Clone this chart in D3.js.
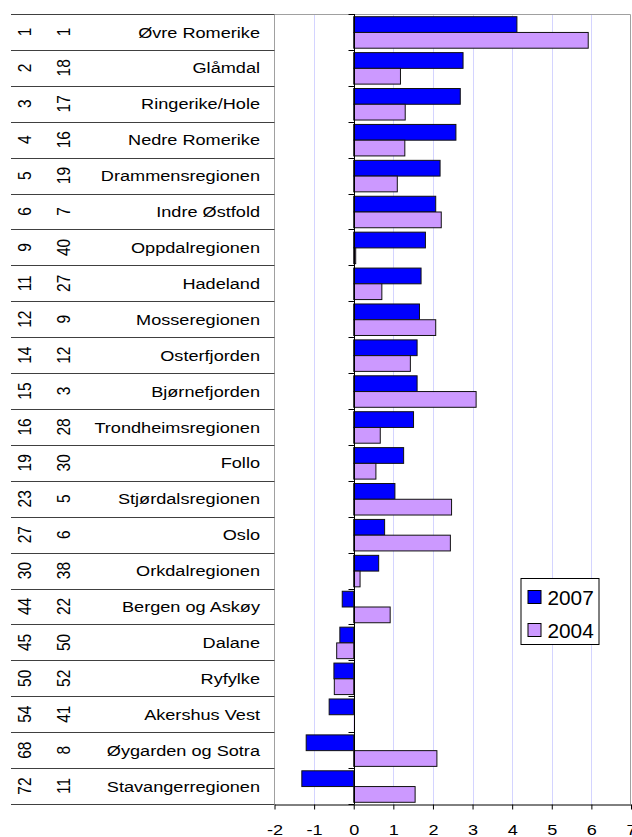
<!DOCTYPE html>
<html>
<head>
<meta charset="utf-8">
<script src="https://cdn.jsdelivr.net/npm/d3@7"></script>
<style>
  body { margin: 0; background: #fff; }
  text { font-family: "Liberation Sans", Arial, sans-serif; fill: #000; }
</style>
</head>
<body>
<script>
// regions, top to bottom
const regions = [
  "Øvre Romerike", "Glåmdal", "Ringerike/Hole", "Nedre Romerike",
  "Drammensregionen", "Indre Østfold", "Oppdalregionen", "Hadeland",
  "Mosseregionen", "Osterfjorden", "Bjørnefjorden", "Trondheimsregionen",
  "Follo", "Stjørdalsregionen", "Oslo", "Orkdalregionen", "Bergen og Askøy",
  "Dalane", "Ryfylke", "Akershus Vest", "Øygarden og Sotra", "Stavangerregionen",
];
// rank columns shown in the table
const rank2007 = [1, 2, 3, 4, 5, 6, 9, 11, 12, 14, 15, 16, 19, 23, 27, 30, 44, 45, 50, 54, 68, 72];
const rank2004 = [1, 18, 17, 16, 19, 7, 40, 27, 9, 12, 3, 28, 30, 5, 6, 38, 22, 50, 52, 41, 8, 11];
// bar values
const values2007 = [4.12, 2.76, 2.69, 2.58, 2.18, 2.07, 1.81, 1.70, 1.66, 1.60, 1.60, 1.51, 1.26, 1.04, 0.78, 0.63, -0.29, -0.35, -0.50, -0.62, -1.20, -1.31];
const values2004 = [5.92, 1.18, 1.30, 1.29, 1.10, 2.21, 0.05, 0.71, 2.07, 1.43, 3.09, 0.67, 0.56, 2.47, 2.44, 0.16, 0.92, -0.43, -0.49, 0, 2.10, 1.55];
const series = ["2007", "2004"];
const seriesColors = ["#0000ff", "#cc99ff"];
const xTicks = [-2, -1, 0, 1, 2, 3, 4, 5, 6, 7];

const width = 632;
const height = 837;
const plot = { left: 274.5, right: 631, top: 14, bottom: 804 };
const stretch = 1.17; // text in the original is a bit wide
const fontSize = 15.5;

const svg = d3.select("body").append("svg")
  .attr("width", width)
  .attr("height", height);

const x = d3.scaleLinear().domain([-2, 7]).range([plot.left, plot.right]);
const y = d3.scaleBand().domain(regions).range([plot.top, plot.bottom]);
const ySub = d3.scaleBand().domain(series)
  .range([0, y.bandwidth()])
  .paddingOuter(0.14);

// gridlines
svg.append("g")
  .selectAll("line")
  .data(xTicks.filter((d) => d > -2 && d < 7 && d !== 0))
  .join("line")
  .attr("x1", (d) => Math.round(x(d)) + 0.5)
  .attr("x2", (d) => Math.round(x(d)) + 0.5)
  .attr("y1", plot.top)
  .attr("y2", plot.bottom)
  .attr("stroke", "#d4d4ff")
  .attr("stroke-width", 1);

// plot frame (grey)
svg.append("path")
  .attr("d", `M${plot.left},${plot.bottom} V${plot.top + 0.5} H${plot.right - 0.5} V${plot.bottom}`)
  .attr("fill", "none")
  .attr("stroke", "#a0a0a0")
  .attr("stroke-width", 1);

// left table: row lines
const rowEdges = regions.map((r) => y(r)).concat([plot.bottom]);
svg.append("g")
  .selectAll("line")
  .data(rowEdges)
  .join("line")
  .attr("x1", 11)
  .attr("x2", plot.left)
  .attr("y1", (d) => Math.round(d) + 0.5)
  .attr("y2", (d) => Math.round(d) + 0.5)
  .attr("stroke", "#404040")
  .attr("stroke-width", 1);

// region names
svg.append("g")
  .selectAll("text")
  .data(regions)
  .join("text")
  .attr("transform", (d) => `translate(260,${y(d) + y.bandwidth() / 2 + 5.6}) scale(${stretch},1)`)
  .attr("text-anchor", "end")
  .attr("font-size", fontSize)
  .text((d) => d);

// rotated rank columns
function rankColumn(ranks, xPos) {
  svg.append("g")
    .selectAll("text")
    .data(ranks)
    .join("text")
    .attr("transform", (d, i) =>
      `translate(${xPos},${y(regions[i]) + y.bandwidth() / 2}) scale(${stretch},1) rotate(-90)`)
    .attr("text-anchor", "middle")
    .attr("font-size", fontSize)
    .text((d) => d);
}
rankColumn(rank2007, 30.5);
rankColumn(rank2004, 69.5);

// bars
const barData = [];
regions.forEach((r, i) => {
  barData.push({ region: r, key: "2007", value: values2007[i] });
  barData.push({ region: r, key: "2004", value: values2004[i] });
});
const color = d3.scaleOrdinal().domain(series).range(seriesColors);

svg.append("g")
  .selectAll("rect")
  .data(barData)
  .join("rect")
  .attr("x", (d) => x(Math.min(0, d.value)))
  .attr("y", (d) => y(d.region) + ySub(d.key) + 0.5)
  .attr("width", (d) => Math.max(1, Math.abs(x(d.value) - x(0))))
  .attr("height", ySub.bandwidth())
  .attr("fill", (d) => color(d.key))
  .attr("stroke", (d) => (d.value === 0 ? "none" : "#111"))
  .attr("stroke-width", 1);

// zero axis with category ticks
const zeroX = Math.round(x(0)) + 0.5;
svg.append("line")
  .attr("x1", zeroX).attr("x2", zeroX)
  .attr("y1", plot.top).attr("y2", plot.bottom)
  .attr("stroke", "#000");
svg.append("g")
  .selectAll("line")
  .data(rowEdges)
  .join("line")
  .attr("x1", zeroX - 6).attr("x2", zeroX)
  .attr("y1", (d) => Math.round(d) + 0.5)
  .attr("y2", (d) => Math.round(d) + 0.5)
  .attr("stroke", "#000");

// bottom value axis (plain hyphen for negatives, like the original)
const xAxis = svg.append("g")
  .attr("transform", `translate(0,${plot.bottom + 0.5})`)
  .call(d3.axisBottom(x).tickValues(xTicks).tickSize(5).tickSizeOuter(0).tickFormat((d) => String(d)));
xAxis.select(".domain").attr("stroke", "#000");
xAxis.selectAll(".tick line").attr("stroke", "#000");
xAxis.selectAll(".tick text")
  .attr("font-family", null)
  .attr("font-size", fontSize)
  .attr("dy", null)
  .attr("y", 31)
  .attr("x", 0)
  .attr("transform", `scale(${stretch},1)`);

// legend
const legend = svg.append("g").attr("transform", "translate(521,578.5)");
legend.append("rect")
  .attr("width", 78)
  .attr("height", 66)
  .attr("fill", "#fff")
  .attr("stroke", "#000");
series.forEach((s, i) => {
  legend.append("rect")
    .attr("x", 7)
    .attr("y", 12 + i * 33)
    .attr("width", 13)
    .attr("height", 13)
    .attr("fill", color(s))
    .attr("stroke", "#000");
  legend.append("text")
    .attr("transform", `translate(26.5,${26 + i * 33}) scale(1.04,1)`)
    .attr("font-size", 20)
    .text(s);
});
</script>
</body>
</html>
